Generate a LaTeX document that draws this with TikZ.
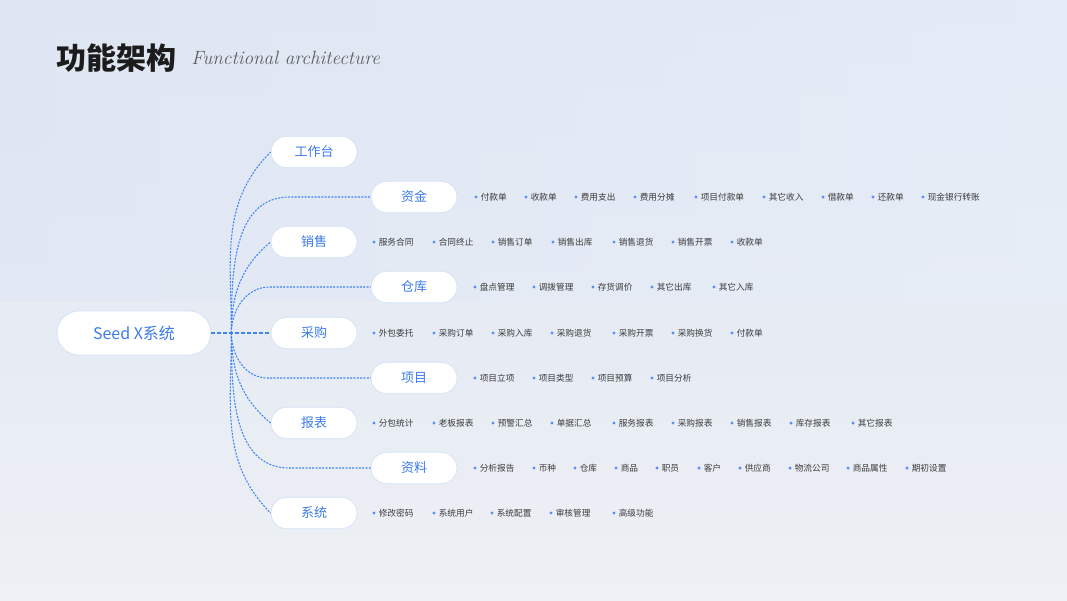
\documentclass[tikz,border=0pt]{standalone}
\usepackage{fontspec}
\usepackage{tikz}
\usetikzlibrary{positioning, shapes.misc, calc}

\newfontfamily\cjk{Noto Sans CJK SC}

\definecolor{bgtop}{HTML}{DEE6F3}
\definecolor{bgbot}{HTML}{EDF0F4}
\definecolor{bgright}{HTML}{EAF0FA}
\definecolor{brandblue}{HTML}{3C7BEA}
\definecolor{linkblue}{HTML}{3D85F5}
\definecolor{dotblue}{HTML}{5B8FF7}
\definecolor{itemgray}{HTML}{3A3A3A}
\definecolor{pillrim}{HTML}{D6E3F7}
\definecolor{titleblack}{HTML}{1C1C1C}
\definecolor{subgray}{HTML}{5E5E5E}

\begin{document}
\begin{tikzpicture}[
    x=0.75pt, y=-0.75pt,
    root_pill/.style={rounded rectangle, draw=pillrim, fill=white, line width=0.6pt, minimum width=115.5pt, minimum height=33pt, inner sep=0pt, font=\cjk\fontsize{12}{14}\selectfont, text=brandblue},
    module_pill/.style={rounded rectangle, draw=pillrim, fill=white, line width=0.6pt, minimum width=64.5pt, minimum height=23.5pt, inner sep=0pt, font=\cjk\fontsize{9.75}{11}\selectfont, text=brandblue},
    sub_item/.style={anchor=west, inner sep=0pt, font=\cjk\fontsize{6.5}{8}\selectfont, text=itemgray},
    link/.style={draw=linkblue, line width=0.8pt, dash pattern=on 1.5pt off 1pt},
    root_link/.style={link, dash pattern=on 3pt off 1.5pt}
]

% Background
\shade[top color=bgtop, bottom color=bgbot] (0,0) rectangle (1067,600);
\shade[left color=bgtop, right color=bgright, opacity=0.5] (0,0) rectangle (1067,300);
\useasboundingbox (0,0) rectangle (1067,600);

% Title
\node[anchor=west, inner sep=0pt, font=\cjk\bfseries\fontsize{22.5}{26}\selectfont, text=titleblack] (title) at (56,58) {功能架构};
\node[right=11pt of title, inner sep=0pt, font=\itshape\fontsize{14.4}{16}\selectfont, text=subgray] (subtitle) {Functional architecture};

% Root
\node[root_pill] (root) at (134,333) {Seed X系统};

% Modules
\node[module_pill] (gzt) at (314,152) {工作台};
\node[module_pill] (zijin) at (414,197) {资金};
\node[module_pill] (xiaoshou) at (314,242) {销售};
\node[module_pill] (cangku) at (414,287) {仓库};
\node[module_pill] (caigou) at (314,333) {采购};
\node[module_pill] (xiangmu) at (414,378) {项目};
\node[module_pill] (baobiao) at (314,423) {报表};
\node[module_pill] (ziliao) at (414,468) {资料};
\node[module_pill] (xitong) at (314,513) {系统};

% Links
\coordinate (trunk) at ($(root.east)+(20,0)$);
\draw[root_link] (root.east) -- (caigou.west);
\draw[link] (trunk) to[out=90,in=225] (gzt.west);
\draw[link] (trunk) to[out=90,in=180] ($(zijin.west)+(-81,0)$) -- (zijin.west);
\draw[link] (trunk) to[out=90,in=220] (xiaoshou.west);
\draw[link] (trunk) to[out=90,in=180] ($(cangku.west)+(-101,0)$) -- (cangku.west);
\draw[link] (trunk) to[out=-90,in=180] ($(xiangmu.west)+(-103,0)$) -- (xiangmu.west);
\draw[link] (trunk) to[out=-90,in=140] (baobiao.west);
\draw[link] (trunk) to[out=-90,in=180] ($(ziliao.west)+(-81,0)$) -- (ziliao.west);
\draw[link] (trunk) to[out=-90,in=135] (xitong.west);

% Sub items
\foreach \x/\t [count=\i] in {476/付款单, 526/收款单, 576/费用支出, 635/费用分摊, 696/项目付款单, 764/其它收入, 823/借款单, 873/还款单, 923/现金银行转账} {
    \fill[dotblue] (\x,197) circle (1.3pt);
    \node[sub_item] (zj\i) at (\x+4.5,197) {\t};
}
\foreach \x/\t [count=\i] in {374/服务合同, 434/合同终止, 493/销售订单, 553/销售出库, 614/销售退货, 673/销售开票, 732/收款单} {
    \fill[dotblue] (\x,242) circle (1.3pt);
    \node[sub_item] (xs\i) at (\x+4.5,242) {\t};
}
\foreach \x/\t [count=\i] in {475/盘点管理, 534/调拨管理, 593/存货调价, 652/其它出库, 714/其它入库} {
    \fill[dotblue] (\x,287) circle (1.3pt);
    \node[sub_item] (ck\i) at (\x+4.5,287) {\t};
}
\foreach \x/\t [count=\i] in {374/外包委托, 434/采购订单, 493/采购入库, 552/采购退货, 614/采购开票, 673/采购换货, 732/付款单} {
    \fill[dotblue] (\x,333) circle (1.3pt);
    \node[sub_item] (cg\i) at (\x+4.5,333) {\t};
}
\foreach \x/\t [count=\i] in {475/项目立项, 534/项目类型, 593/项目预算, 652/项目分析} {
    \fill[dotblue] (\x,378) circle (1.3pt);
    \node[sub_item] (xm\i) at (\x+4.5,378) {\t};
}
\foreach \x/\t [count=\i] in {374/分包统计, 434/老板报表, 493/预警汇总, 552/单据汇总, 614/服务报表, 673/采购报表, 732/销售报表, 791/库存报表, 853/其它报表} {
    \fill[dotblue] (\x,423) circle (1.3pt);
    \node[sub_item] (bb\i) at (\x+4.5,423) {\t};
}
\foreach \x/\t [count=\i] in {475/分析报告, 534/币种, 575/仓库, 616/商品, 657/职员, 699/客户, 740/供应商, 790/物流公司, 848/商品属性, 907/期初设置} {
    \fill[dotblue] (\x,468) circle (1.3pt);
    \node[sub_item] (zl\i) at (\x+4.5,468) {\t};
}
\foreach \x/\t [count=\i] in {374/修改密码, 434/系统用户, 492/系统配置, 551/审核管理, 614/高级功能} {
    \fill[dotblue] (\x,513) circle (1.3pt);
    \node[sub_item] (xt\i) at (\x+4.5,513) {\t};
}

\end{tikzpicture}
\end{document}
